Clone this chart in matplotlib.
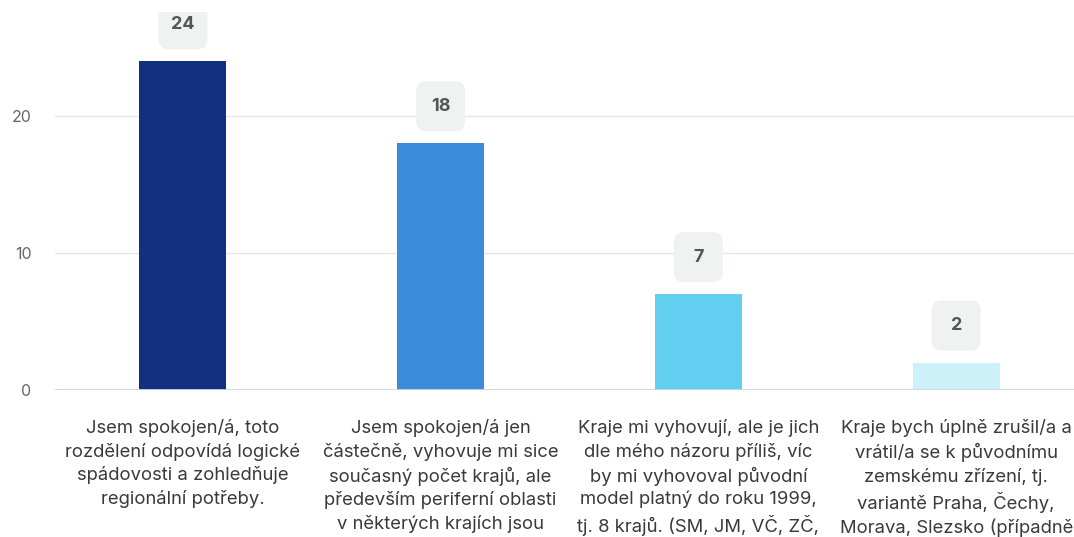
import matplotlib
matplotlib.use("Agg")
import matplotlib.pyplot as plt
from matplotlib.patches import FancyBboxPatch
from matplotlib.transforms import Affine2D, ScaledTranslation

plt.rcParams['font.family'] = ['Inter', 'DejaVu Sans']

categories = [
    "Jsem spokojen/á, toto\nrozdělení odpovídá logické\nspádovosti a zohledňuje\nregionální potřeby.",
    "Jsem spokojen/á jen\nčástečně, vyhovuje mi sice\nsoučasný počet krajů, ale\npředevším periferní oblasti\nv některých krajích jsou",
    "Kraje mi vyhovují, ale je jich\ndle mého názoru příliš, víc\nby mi vyhovoval původní\nmodel platný do roku 1999,\ntj. 8 krajů. (SM, JM, VČ, ZČ,",
    "Kraje bych úplně zrušil/a a\nvrátil/a se k původnímu\nzemskému zřízení, tj.\nvariantě Praha, Čechy,\nMorava, Slezsko (případně",
]
values = [24, 18, 7, 2]
colors = ["#132f7f", "#3a8bd9", "#62cff0", "#cdf1f9"]
yticks = [0, 10, 20]

W, H = 1074, 537
fig = plt.figure(figsize=(W / 100, H / 100), dpi=100)
ax = fig.add_axes([55 / W, 1 - 390 / H, 1 - 55 / W, (390 - 12) / H])

x = list(range(len(values)))
bars = ax.bar(x, values, width=0.337, color=colors, zorder=3)

ax.set_xlim(-0.496, 3.457)
ax.set_ylim(0, (390 - 12) / 13.7)

for s in ax.spines.values():
    s.set_visible(False)
ax.set_yticks(yticks)
ax.set_yticklabels([str(t) for t in yticks])
ax.grid(axis='y', color='#e6e6e6', linewidth=1.0, zorder=0)
ax.axhline(0, color='#ccd6eb', linewidth=1.3, zorder=4)
ax.tick_params(axis='y', length=0, pad=17, labelsize=11.5, labelcolor='#666666')
ax.set_xticks(x)
ax.set_xticklabels(categories, fontsize=13.3, color='#3a3a3a', linespacing=1.39)
ax.tick_params(axis='x', length=0, pad=21)

bw, bh = 49, 50
for xi, v in zip(x, values):
    tr = Affine2D() + ScaledTranslation(xi, v, ax.transData)
    p = FancyBboxPatch((-bw / 2 + 10, 12 + 10), bw - 20, bh - 20,
                       boxstyle="round,pad=10,rounding_size=10",
                       facecolor='#f0f1f1', edgecolor='none',
                       transform=tr, zorder=5)
    ax.add_patch(p)
    p.set_clip_path(ax.patch)
    t = ax.text(0, 12 + bh / 2, str(v), transform=tr, ha='center', va='center',
                fontsize=13, fontweight='bold', color='#555555', zorder=6)
    t.set_clip_on(True)

fig.savefig("out.png", dpi=100)
